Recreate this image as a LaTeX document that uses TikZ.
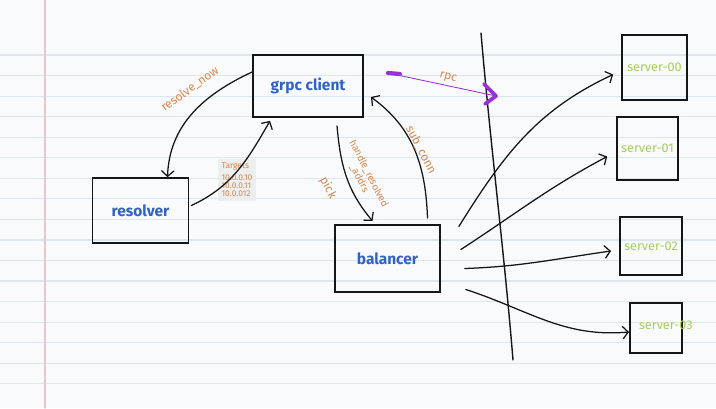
\documentclass[tikz,border=0pt]{standalone}
\usepackage{fontspec}
\setmainfont{Fira Sans}
\usepackage{tikz}
\usetikzlibrary{arrows.meta,positioning}
\definecolor{pen}{HTML}{161616}
\definecolor{ink}{HTML}{3262C8}
\definecolor{note}{HTML}{D9894E}
\definecolor{leaf}{HTML}{A8CF55}
\definecolor{rpccol}{HTML}{9A2FDB}
\definecolor{paper}{HTML}{F8FAFB}
\definecolor{ruling}{HTML}{DCE7ED}
\definecolor{margin}{HTML}{E5C8CC}

\begin{document}
\begin{tikzpicture}[>={Straight Barb[length=4pt,width=9pt]},x=0.025cm,y=-0.025cm,line cap=round]
	% notebook page
	\useasboundingbox (0,0) rectangle (716,408);
	\fill[paper] (0,0) rectangle (716,408);
	\foreach \i in {0,...,16}
		\draw[ruling,line width=0.8pt] (0,55+20.55*\i) -- (716,55+20.55*\i);
	\draw[margin,line width=1.2pt] (45,0) -- (45,408);
	\tikzset{box/.style={draw=pen,line width=1.3pt,inner sep=0pt}}
	\tikzset{title/.style={text=ink,font=\bfseries\fontsize{11}{13}\selectfont}}
	\tikzset{calltxt/.style={text=note,font=\fontsize{8.5}{9}\selectfont,inner sep=0pt}}
	\tikzset{srvtxt/.style={text=leaf,font=\fontsize{9}{10}\selectfont,inner sep=0pt}}
	\tikzset{link/.style={draw=pen,line width=0.9pt,->}}
	% boxes
	\node[box,title,minimum width=2.4cm,minimum height=1.62cm] (resolver) at (140.5,210.5) {resolver};
	\node[box,title,minimum width=2.75cm,minimum height=1.55cm] (grpc) at (308,86) {grpc client};
	\node[box,title,minimum width=2.62cm,minimum height=1.68cm] (balancer) at (387.5,258.5) {balancer};
	\node[box,minimum width=1.62cm,minimum height=1.62cm,label={[srvtxt]center:server-00}] (s0) at (654.5,67.5) {};
	\node[box,minimum width=1.52cm,minimum height=1.58cm,label={[srvtxt]center:server-01}] (s1) at (647.5,148.5) {};
	\node[box,minimum width=1.55cm,minimum height=1.45cm,label={[srvtxt]center:server-02}] (s2) at (651,246) {};
	\node[box,minimum width=1.3cm,minimum height=1.25cm,label={[srvtxt,xshift=7pt,yshift=2pt]center:server-03}] (s3) at (656,328) {};
	% targets note
	\node[fill=black!8,opacity=0.8,text opacity=1,text=note,align=left,inner sep=2.5pt,
		font=\fontsize{6}{6}\selectfont] (targets) at (237,180) {Targets\\[2pt]10.0.0.10\\10.0.0.11\\10.0.012};
	% the wall
	\coordinate (walltop) at (481,33);
	\coordinate (wallbot) at (513,360);
	\draw[pen,line width=1pt] (walltop) .. controls (491,150) and (504,250) .. (wallbot);
	% calls
	\draw[link] ([shift={(0,-14)}]grpc.west) to[out=205,in=88] ([shift={(27,0)}]resolver.north);
	\draw[link] ([shift={(2,-5)}]resolver.east) to[out=25,in=-120] ([shift={(-38,3)}]grpc.south);
	\draw[link] ([shift={(29,8)}]grpc.south) to[out=-85,in=130] ([shift={(-15,-3)}]balancer.north);
	\draw[link] ([shift={(40,-6)}]balancer.north) to[out=92,in=-36] ([shift={(7,11)}]grpc.east);
	% rpc
	\coordinate (rpctip) at (496,96);
	\draw[rpccol,line width=0.6pt] ([shift={(24,-13)}]grpc.east) -- (rpctip);
	\draw[rpccol,line width=3pt] ([shift={(24,-13)}]grpc.east) -- ++(12,1);
	\draw[rpccol,line width=2.6pt,line join=round] ([shift={(-12,-12)}]rpctip) -- (rpctip) -- ([shift={(-11,8)}]rpctip);
	% servers
	\draw[link] ([shift={(18,-32)}]balancer.east) to[out=58,in=205] ([shift={(-8,7)}]s0.west);
	\draw[link] ([shift={(20,-9)}]balancer.east) to[out=33,in=208] ([shift={(-9,8)}]s1.west);
	\draw[link] ([shift={(24,10)}]balancer.east) to[out=2,in=188] ([shift={(-8,5)}]s2.west);
	\draw[link] ([shift={(25,31)}]balancer.east) to[out=-18,in=185] ([shift={(0,4)}]s3.west);
	% labels
	\node[calltxt,rotate=36] (lresolve) at (190,89) {resolve\_now};
	\node[calltxt,rotate=-63,align=center,font=\fontsize{7}{7.5}\selectfont] (lhandle) at (364,176) {handle\_resolved\\\_addrs};
	\node[calltxt,rotate=-63] (lpick) at (328,188) {pick};
	\node[calltxt,rotate=-62] (lsub) at (421,150) {sub\_conn};
	\node[calltxt,rotate=-14] (lrpc) at (448,78) {rpc};
\end{tikzpicture}
\end{document}
